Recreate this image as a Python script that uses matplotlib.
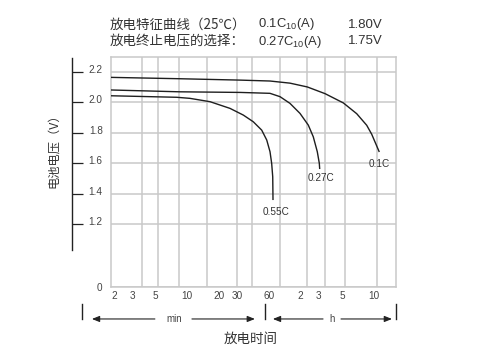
import matplotlib
matplotlib.use('Agg')
import matplotlib.pyplot as plt
import matplotlib.transforms as mtransforms
from matplotlib.ticker import FixedLocator, NullFormatter, FixedFormatter

plt.rcParams['font.family'] = ['Liberation Sans', 'Noto Sans CJK SC', 'DejaVu Sans']
plt.rcParams['mathtext.fontset'] = 'custom'
plt.rcParams['mathtext.rm'] = 'Liberation Sans'
plt.rcParams['mathtext.it'] = 'Liberation Sans:italic'

# ---------------- data (time in minutes, voltage in V) ----------------
t_01 = [1.87, 8.52, 31.9, 61.7, 95.7, 140.1, 206.8, 309.2, 415.2, 517.2, 577.3, 682.3]
v_01 = [2.165, 2.156, 2.147, 2.141, 2.127, 2.102, 2.058, 1.997, 1.926, 1.850, 1.791, 1.674]

t_027 = [1.87, 8.52, 31.9, 61.7, 76.9, 95.7, 119.3, 143.2, 159.8, 174.5, 182.4, 184.0]
v_027 = [2.082, 2.070, 2.066, 2.060, 2.038, 1.994, 1.928, 1.851, 1.774, 1.676, 1.600, 1.562]

t_055 = [1.87, 7.93, 10.6, 16.5, 25.6, 34.3, 42.7, 51.4, 57.4, 61.7, 64.0, 65.5, 65.9]
v_055 = [2.044, 2.034, 2.027, 2.005, 1.961, 1.917, 1.873, 1.818, 1.753, 1.676, 1.599, 1.511, 1.358]

curve_names = ['0.1C', '0.27C', '0.55C']

x_tick_pos = [2, 3, 5, 10, 20, 30, 60, 120, 180, 300, 600]
x_tick_labels = ['2', '3', '5', '10', '20', '30', '60', '2', '3', '5', '10']
grid_x = [3.67, 5.29, 8.34, 15.5, 29.6, 41.8, 76.9, 140.1, 206.8, 321, 652.9]

y_tick_pos = [2.2, 2.0, 1.8, 1.6, 1.4, 1.2]
y_tick_labels = ['2.2', '2.0', '1.8', '1.6', '1.4', '1.2']
y_bottom_label = '0'

title_left = ['放电特征曲线（25℃）', '放电终止电压的选择：']
title_mid = ['0.1C$_{10}$(A)', '0.27C$_{10}$(A)']
title_right = ['1.80V', '1.75V']

xlim = (1.87, 985)
ylim = (0.786, 2.299)

# ---------------- figure ----------------
W, H = 480, 360
fig = plt.figure(figsize=(4.8, 3.6), dpi=100)
fig.patch.set_facecolor('white')
ax = fig.add_axes([111 / W, 73 / H, 285 / W, 230 / H])
ax.set_xscale('log')
ax.set_xlim(*xlim)
ax.set_ylim(*ylim)

grid_c = '#c9c9c9'
line_c = '#1e1e1e'
text_c = '#333333'

# grid
ax.xaxis.set_major_locator(FixedLocator(x_tick_pos))
ax.xaxis.set_major_formatter(FixedFormatter(x_tick_labels))
ax.xaxis.set_minor_locator(FixedLocator(grid_x))
ax.xaxis.set_minor_formatter(NullFormatter())
ax.tick_params(axis='x', which='both', length=0, pad=3, labelsize=7.2, labelcolor='#444444')
ax.grid(True, axis='x', which='minor', color=grid_c, lw=1.1)
ax.grid(False, axis='x', which='major')

yt = [ylim[0]] + y_tick_pos
ax.set_yticks(yt)
ax.set_yticklabels([y_bottom_label] + y_tick_labels)
ax.grid(True, axis='y', which='major', color=grid_c, lw=1.1)
ax.set_axisbelow(True)

for s in ['top', 'right', 'bottom']:
    ax.spines[s].set_color(grid_c)
    ax.spines[s].set_linewidth(1.1)
ax.axvline(xlim[0], color=grid_c, lw=1.1, clip_on=False, zorder=0.5)

ax.spines['left'].set_position(('outward', 28.3))
ax.spines['left'].set_bounds(1.029, 2.292)
ax.spines['left'].set_color('#222222')
ax.spines['left'].set_linewidth(1.0)
ax.tick_params(axis='y', direction='in', length=7.9, width=0.9, color='#222222',
               pad=-22.3, labelsize=7.2, labelcolor='#444444')
ax.yaxis.get_major_ticks()[0].tick1line.set_visible(False)
up = mtransforms.ScaledTranslation(0, 3 / 100, fig.dpi_scale_trans)
for tk in ax.yaxis.get_major_ticks()[1:]:
    tk.label1.set_transform(tk.label1.get_transform() + up)

# curves
series = [(t_01, v_01), (t_027, v_027), (t_055, v_055)]
offsets = [(0.3, -8.4), (0.9, -6.5), (1.9, -8.4)]
for (t, v), name, off in zip(series, curve_names, offsets):
    ax.plot(t, v, color=line_c, lw=1.0, solid_capstyle='butt', solid_joinstyle='round', zorder=3)
    ax.annotate(name, xy=(t[-1], v[-1]), xytext=off, textcoords='offset points',
                ha='center', va='center', fontsize=7.2, color=text_c)

# title block
ys = [1 - 24.5 / H, 1 - 41.5 / H]
for i in range(2):
    fig.text(110 / W, ys[i], title_left[i], fontsize=9.7, color=text_c, va='center', ha='left',
             family=['Noto Sans CJK SC', 'DejaVu Sans'])
    fig.text(258 / W, ys[i], title_mid[i], fontsize=9.4, color=text_c, va='center', ha='left')
    fig.text(348 / W, ys[i], title_right[i], fontsize=9.5, color=text_c, va='center', ha='left')

# axis labels
fig.text(53.5 / W, 1 - 147.5 / H, '电池电压（V）', rotation=90, fontsize=8.8, color=text_c,
         ha='center', va='center', family=['Noto Sans CJK SC', 'DejaVu Sans'])
fig.text(251 / W, 1 - 339 / H, '放电时间', fontsize=9.7, color=text_c,
         ha='center', va='center', family=['Noto Sans CJK SC', 'DejaVu Sans'])

# time-unit brackets below the axis (axes-fraction coordinates)
tr = ax.transAxes
ya, yb = -0.139, -0.074
for xb in [-0.1018, 0.5404, 1.0]:
    ax.plot([xb, xb], [ya, yb], transform=tr, color='#222222', lw=1.0, clip_on=False)
arrow_kw = dict(arrowstyle='-|>,head_length=0.45,head_width=0.18', color='#222222', lw=0.8,
                shrinkA=0, shrinkB=0)
for x0, x1 in [(0.154, -0.067), (0.284, 0.505), (0.744, 0.568), (0.807, 0.986)]:
    ax.annotate('', xy=(x1, ya), xytext=(x0, ya), xycoords=tr, textcoords=tr,
                arrowprops=arrow_kw, annotation_clip=False)
ax.text(0.221, ya, 'min', transform=tr, ha='center', va='center', fontsize=7, color='#444444')
ax.text(0.775, ya, 'h', transform=tr, ha='center', va='center', fontsize=7, color='#444444')

fig.savefig('out.png', dpi=100, facecolor='white')
